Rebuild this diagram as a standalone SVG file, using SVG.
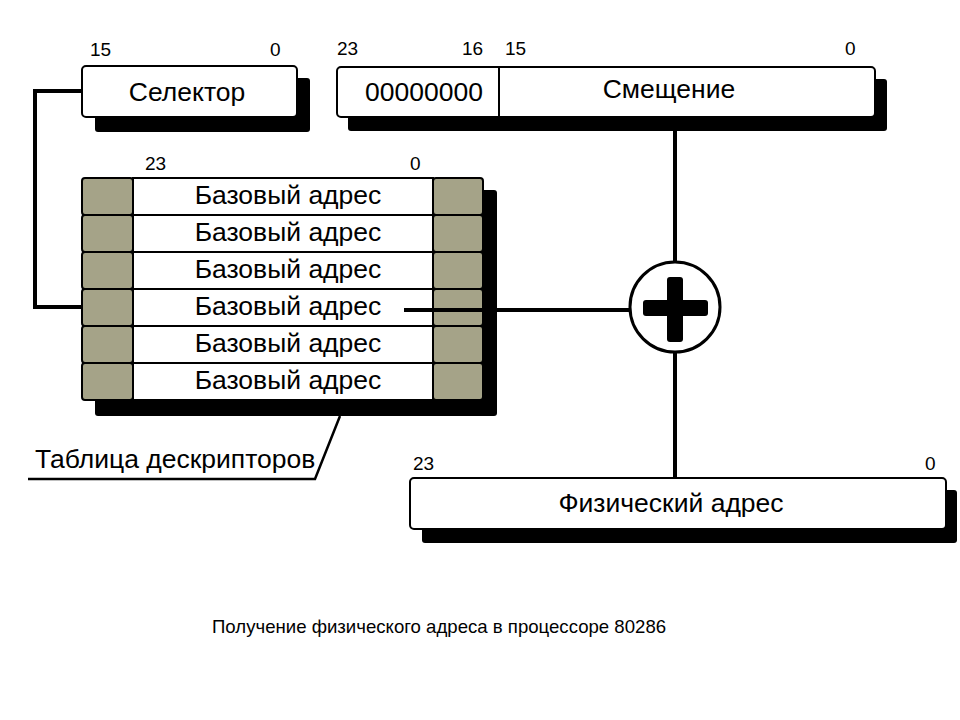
<svg xmlns="http://www.w3.org/2000/svg" width="960" height="720" viewBox="0 0 960 720">
<style>
  .box{fill:#fff;stroke:#000;stroke-width:2}
  .shadow{fill:#000}
  .gray{fill:#a5a388;stroke:#000;stroke-width:2}
  .t{font-family:"Liberation Sans",Arial,sans-serif;font-size:26.5px;fill:#000}
  .n{font-family:"Liberation Sans",Arial,sans-serif;font-size:19px;fill:#000}
  .c{text-anchor:middle}
  .ln{fill:none;stroke:#000;stroke-width:4}
</style>
<rect width="960" height="720" fill="#fff"/>

<g id="selector">
  <rect class="shadow" x="95" y="78" width="215" height="54" rx="3"/>
  <rect class="box" x="82" y="66" width="215" height="51" rx="4"/>
  <text class="n" x="90" y="56">15</text>
  <text class="n" x="270" y="56">0</text>
  <text class="t c" x="187" y="101">Селектор</text>
</g>

<g id="offset">
  <rect class="shadow" x="348" y="79" width="539" height="52" rx="3"/>
  <rect class="box" x="337" y="67" width="538" height="50" rx="4"/>
  <line x1="499" y1="67" x2="499" y2="117" stroke="#000" stroke-width="2"/>
  <text class="n" x="337" y="55">23</text>
  <text class="n" x="462" y="55">16</text>
  <text class="n" x="505" y="55">15</text>
  <text class="n" x="845" y="55">0</text>
  <text class="t c" x="424" y="101">00000000</text>
  <text class="t c" x="669" y="98">Смещение</text>
</g>

<g id="descriptor-table">
  <rect class="shadow" x="95" y="190" width="402" height="226" rx="3"/>
  <text class="n" x="145" y="170">23</text>
  <text class="n" x="410" y="170">0</text>
  <g id="row1">
    <rect class="gray" x="82" y="178" width="51" height="37" rx="3"/>
    <rect class="box" x="133" y="178" width="300" height="37"/>
    <rect class="gray" x="433" y="178" width="50" height="37" rx="3"/>
    <text class="t c" x="288" y="204">Базовый адрес</text>
  </g>
  <g id="row2">
    <rect class="gray" x="82" y="215" width="51" height="37" rx="3"/>
    <rect class="box" x="133" y="215" width="300" height="37"/>
    <rect class="gray" x="433" y="215" width="50" height="37" rx="3"/>
    <text class="t c" x="288" y="241">Базовый адрес</text>
  </g>
  <g id="row3">
    <rect class="gray" x="82" y="252" width="51" height="37" rx="3"/>
    <rect class="box" x="133" y="252" width="300" height="37"/>
    <rect class="gray" x="433" y="252" width="50" height="37" rx="3"/>
    <text class="t c" x="288" y="278">Базовый адрес</text>
  </g>
  <g id="row4">
    <rect class="gray" x="82" y="289" width="51" height="37" rx="3"/>
    <rect class="box" x="133" y="289" width="300" height="37"/>
    <rect class="gray" x="433" y="289" width="50" height="37" rx="3"/>
    <text class="t c" x="288" y="315">Базовый адрес</text>
  </g>
  <g id="row5">
    <rect class="gray" x="82" y="326" width="51" height="37" rx="3"/>
    <rect class="box" x="133" y="326" width="300" height="37"/>
    <rect class="gray" x="433" y="326" width="50" height="37" rx="3"/>
    <text class="t c" x="288" y="352">Базовый адрес</text>
  </g>
  <g id="row6">
    <rect class="gray" x="82" y="363" width="51" height="37" rx="3"/>
    <rect class="box" x="133" y="363" width="300" height="37"/>
    <rect class="gray" x="433" y="363" width="50" height="37" rx="3"/>
    <text class="t c" x="288" y="389">Базовый адрес</text>
  </g>
  <text class="t" x="35" y="468">Таблица дескрипторов</text>
</g>

<g id="physical">
  <rect class="shadow" x="422" y="490" width="535" height="53" rx="3"/>
  <rect class="box" x="410" y="478" width="536" height="51" rx="4"/>
  <text class="n" x="413" y="470">23</text>
  <text class="n" x="925" y="470">0</text>
  <text class="t c" x="671" y="512">Физический адрес</text>
</g>

<g id="adder">
  <circle cx="675" cy="307" r="45" fill="#fff" stroke="#000" stroke-width="3"/>
  <rect x="643" y="300" width="65" height="16" rx="3" fill="#000"/>
  <rect x="667" y="277" width="16" height="65" rx="3" fill="#000"/>
</g>

<g id="connectors">
  <polyline class="ln" points="82,91 35,91 35,307 82,307"/>
  <line class="ln" x1="404" y1="310" x2="630" y2="310" stroke-width="3.5"/>
  <line class="ln" x1="675" y1="131" x2="675" y2="262" stroke-width="4"/>
  <line class="ln" x1="675" y1="352" x2="675" y2="478" stroke-width="3"/>
  <polyline fill="none" stroke="#000" stroke-width="2.5" points="28,479 315,479 340,416"/>
</g>

<text x="212" y="633" font-family="'Liberation Sans',Arial,sans-serif" font-size="18.6" fill="#000">Получение физического адреса в процессоре 80286</text>
</svg>
